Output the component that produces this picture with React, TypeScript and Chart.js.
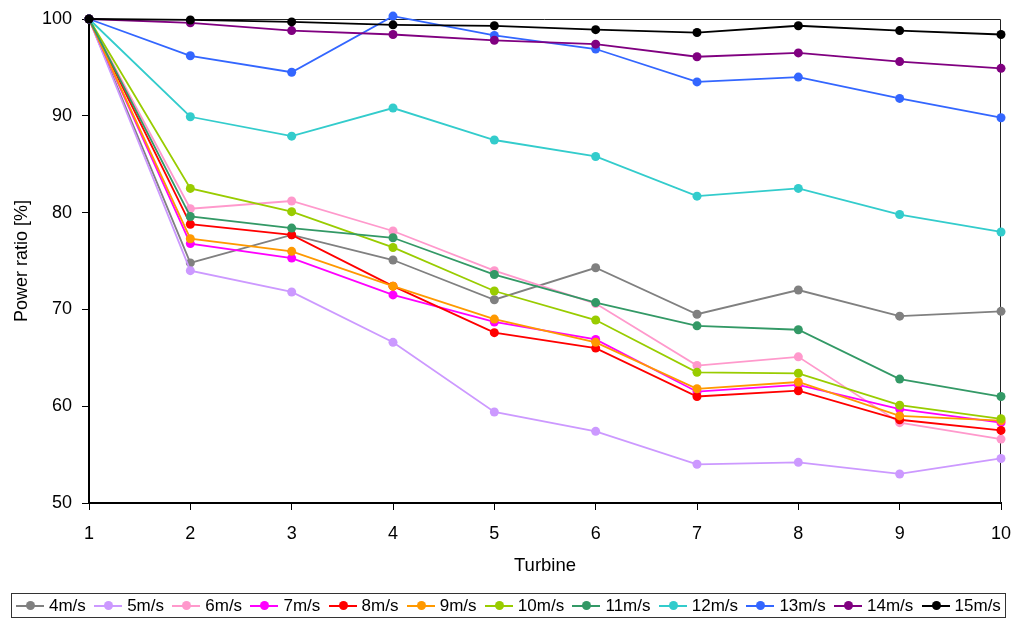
import React, { useEffect, useRef } from 'react';
import { Chart, registerables } from 'chart.js';

Chart.register(...registerables);

const FONT = "'Liberation Sans', Arial, sans-serif";

const turbines = ['1', '2', '3', '4', '5', '6', '7', '8', '9', '10'];
const seriesLabels = ['4m/s', '5m/s', '6m/s', '7m/s', '8m/s', '9m/s', '10m/s', '11m/s', '12m/s', '13m/s', '14m/s', '15m/s'];
const seriesColors = ['#808080', '#CC99FF', '#FF99CC', '#FF00FF', '#FF0000', '#FF9900', '#99CC00', '#339966', '#33CCCC', '#3366FF', '#800080', '#000000'];

const ws4 = [100, 74.8, 77.7, 75.1, 71.0, 74.3, 69.5, 72.0, 69.3, 69.8];
const ws5 = [100, 74.0, 71.8, 66.6, 59.4, 57.4, 54.0, 54.2, 53.0, 54.6];
const ws6 = [100, 80.4, 81.2, 78.1, 74.0, 70.6, 64.2, 65.1, 58.3, 56.6];
const ws7 = [100, 76.8, 75.3, 71.5, 68.7, 66.9, 61.5, 62.2, 59.7, 58.3];
const ws8 = [100, 78.8, 77.7, 72.4, 67.6, 66.0, 61.0, 61.6, 58.6, 57.5];
const ws9 = [100, 77.3, 76.0, 72.4, 69.0, 66.6, 61.8, 62.5, 59.0, 58.5];
const ws10 = [100, 82.5, 80.1, 76.4, 71.9, 68.9, 63.5, 63.4, 60.1, 58.7];
const ws11 = [100, 79.6, 78.4, 77.4, 73.6, 70.7, 68.3, 67.9, 62.8, 61.0];
const ws12 = [100, 89.9, 87.9, 90.8, 87.5, 85.8, 81.7, 82.5, 79.8, 78.0];
const ws13 = [100, 96.2, 94.5, 100.3, 98.3, 96.9, 93.5, 94.0, 91.8, 89.8];
const ws14 = [100, 99.6, 98.8, 98.4, 97.8, 97.4, 96.1, 96.5, 95.6, 94.9];
const ws15 = [100, 99.9, 99.7, 99.4, 99.3, 98.9, 98.6, 99.3, 98.8, 98.4];

const seriesValues = [ws4, ws5, ws6, ws7, ws8, ws9, ws10, ws11, ws12, ws13, ws14, ws15];

const yMin = 50;
const yMax = 100;
const yStep = 10;

const framePlugin = {
  id: 'frame',
  beforeDatasetsDraw(chart: any) {
    const { ctx, chartArea } = chart;
    const { left, top, right, bottom } = chartArea;
    ctx.save();
    ctx.strokeStyle = '#222';
    ctx.lineWidth = 1;
    ctx.beginPath();
    ctx.moveTo(left, Math.round(top) + 0.5);
    ctx.lineTo(Math.round(right) - 0.5, Math.round(top) + 0.5);
    ctx.lineTo(Math.round(right) - 0.5, bottom);
    ctx.stroke();
    ctx.restore();
  },
};

export default function App() {
  const canvasRef = useRef<HTMLCanvasElement | null>(null);

  useEffect(() => {
    if (!canvasRef.current) return;
    const chart = new Chart(canvasRef.current, {
      type: 'line',
      data: {
        labels: turbines,
        datasets: seriesLabels.map((label, i) => ({
          label,
          data: seriesValues[i],
          borderColor: seriesColors[i],
          backgroundColor: seriesColors[i],
          pointBackgroundColor: seriesColors[i],
          pointBorderColor: seriesColors[i],
          pointRadius: 4.5,
          pointBorderWidth: 0,
          borderWidth: 1.8,
          tension: 0,
          fill: false,
          clip: false as any,
          order: seriesLabels.length - i,
        })),
      },
      options: {
        animation: false,
        responsive: false,
        maintainAspectRatio: false,
        layout: { padding: { left: 0, right: 15, top: 19, bottom: 39 } },
        plugins: {
          legend: { display: false },
          tooltip: { enabled: false },
        },
        scales: {
          x: {
            type: 'category',
            offset: false,
            grid: {
              display: true,
              offset: false,
              drawOnChartArea: false,
              drawTicks: true,
              tickLength: 7,
              color: '#000',
              lineWidth: 1,
            },
            border: { display: true, color: '#000', width: 2 },
            ticks: {
              color: '#000',
              font: { family: FONT, size: 18 },
              padding: 13,
              maxRotation: 0,
              autoSkip: false,
            },
            title: {
              display: true,
              text: 'Turbine',
              color: '#000',
              font: { family: FONT, size: 18.5 },
              padding: { top: 0, bottom: 6 },
            },
            afterFit: (s: any) => {
              s.height = 80;
              s.paddingLeft = 0;
              s.paddingRight = 0;
            },
          },
          y: {
            min: yMin,
            max: yMax,
            grid: {
              display: true,
              drawOnChartArea: false,
              drawTicks: true,
              tickLength: 7,
              color: '#000',
              lineWidth: 1,
            },
            border: { display: true, color: '#000', width: 2 },
            ticks: {
              stepSize: yStep,
              color: '#000',
              font: { family: FONT, size: 18 },
              padding: 10,
            },
            title: {
              display: true,
              text: 'Power ratio [%]',
              color: '#000',
              font: { family: FONT, size: 18 },
              padding: { top: 11, bottom: 0 },
            },
            afterFit: (s: any) => {
              s.width = 89;
              s.paddingTop = 0;
              s.paddingBottom = 0;
            },
          },
        },
      },
      plugins: [framePlugin],
    });
    return () => chart.destroy();
  }, []);

  return (
    <div style={{ position: 'absolute', left: 0, top: 0, width: 1016, height: 622, background: '#fff' }}>
      <canvas ref={canvasRef} width={1016} height={622} style={{ display: 'block', width: 1016, height: 622 }} />
      <div
        style={{
          position: 'absolute',
          left: 11,
          top: 593,
          width: 995,
          height: 25,
          boxSizing: 'border-box',
          border: '1px solid #333',
          display: 'flex',
          alignItems: 'center',
          paddingLeft: 4,
          gap: 8.3,
          fontFamily: FONT,
          fontSize: 17,
          color: '#000',
          whiteSpace: 'nowrap',
        }}
      >
        {seriesLabels.map((label, i) => (
          <div key={label} style={{ display: 'flex', alignItems: 'center' }}>
            <span style={{ position: 'relative', display: 'inline-block', width: 28, height: 2, background: seriesColors[i], marginRight: 5 }}>
              <span
                style={{
                  position: 'absolute',
                  left: 10,
                  top: -3.5,
                  width: 9,
                  height: 9,
                  borderRadius: '50%',
                  background: seriesColors[i],
                }}
              />
            </span>
            <span style={{ lineHeight: '20px' }}>{label}</span>
          </div>
        ))}
      </div>
    </div>
  );
}
